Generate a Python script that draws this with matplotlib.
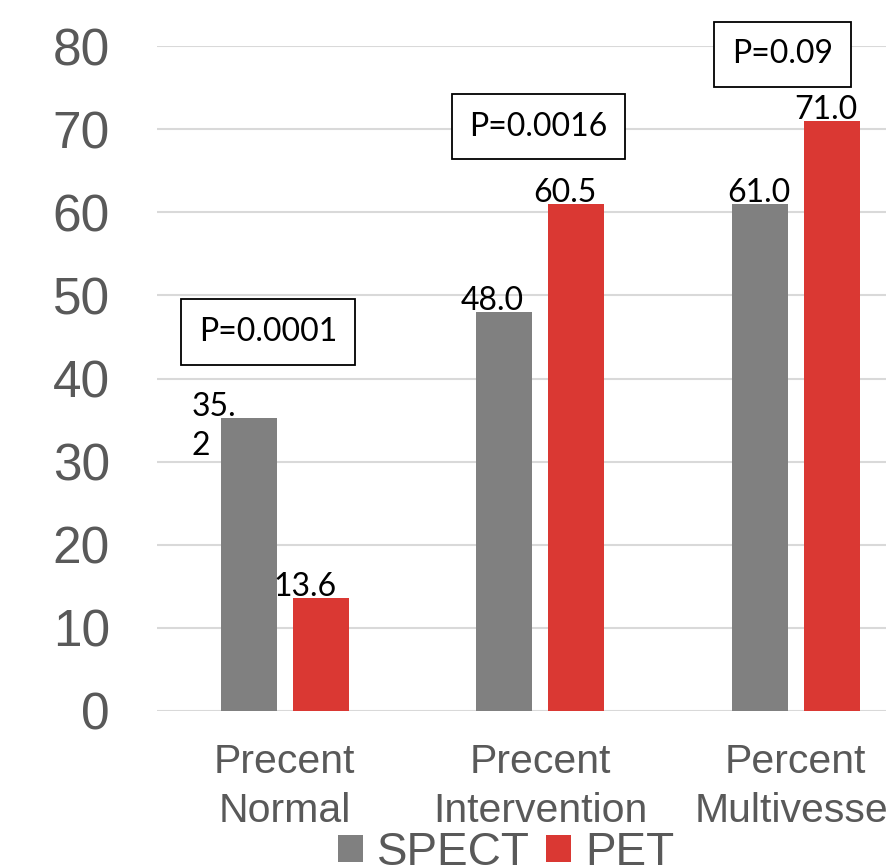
import matplotlib
matplotlib.use("Agg")
import matplotlib.pyplot as plt
from matplotlib.patches import Patch
import numpy as np

categories = ["Precent\nNormal", "Precent\nIntervention", "Percent\nMultivessel"]
spect = [35.2, 48.0, 61.0]
pet = [13.6, 61.0, 71.0]
spect_labels = ["35.\n2", "48.0", "61.0"]
pet_labels = ["13.6", "60.5", "71.0"]
p_values = ["P=0.0001", "P=0.0016", "P=0.09"]
p_y = [45.6, 70.3, 79.0]
yticks = [0, 10, 20, 30, 40, 50, 60, 70, 80]

GREY = "#808080"
RED = "#DA3833"
TXT = "#595959"

fig = plt.figure(figsize=(8.87, 8.67), dpi=100)
ax = fig.add_axes([157/887, 1-711/867, 766.5/887, (711-46)/867])

x = np.arange(len(categories))
w = 0.22
off = 0.141
b1 = ax.bar(x - off, spect, w, color=GREY, zorder=3)
b2 = ax.bar(x + off, pet, w, color=RED, zorder=3)

ax.set_xlim(-0.5, 2.5)
ax.set_ylim(0, 80)
ax.set_yticks(yticks)
ax.yaxis.grid(True, color="#d9d9d9", linewidth=1.5, zorder=0)
ax.set_axisbelow(True)
for s in ax.spines.values():
    s.set_visible(False)
ax.tick_params(axis="y", length=0, pad=34, labelsize=37, labelcolor=TXT)
ax.tick_params(axis="x", length=0, pad=23, labelsize=29.5, labelcolor=TXT)
ax.set_xticks(x)
ax.set_xticklabels(categories, linespacing=1.38)
for lab in ax.get_yticklabels() + ax.get_xticklabels():
    lab.set_fontfamily("Liberation Sans")

lblfont = dict(family="Lato", fontsize=23, color="black")
spect_dx = [-57, -12, -1]
pet_dx = [-16, -11, -6]
for i in range(len(categories)):
    if "\n" in spect_labels[i]:
        ax.annotate(spect_labels[i], (x[i] - off, spect[i]), xytext=(spect_dx[i], -37),
                    textcoords="offset pixels", ha="left", va="baseline",
                    linespacing=1.4, **lblfont)
    else:
        ax.annotate(spect_labels[i], (x[i] - off, spect[i]), xytext=(spect_dx[i], 2),
                    textcoords="offset pixels", ha="center", va="baseline", **lblfont)
    ax.annotate(pet_labels[i], (x[i] + off, pet[i]), xytext=(pet_dx[i], 2),
                textcoords="offset pixels", ha="center", va="baseline", **lblfont)

p_x = [-0.066, 0.993, 1.948]
for i in range(len(categories)):
    ax.text(p_x[i], p_y[i], p_values[i], ha="center", va="center", zorder=5,
            bbox=dict(boxstyle="square,pad=0.55", facecolor="white",
                      edgecolor="black", linewidth=1.3), **lblfont)

handles = [Patch(facecolor=GREY, label="SPECT"), Patch(facecolor=RED, label="PET")]
fig.legend(handles=handles, loc="center", bbox_to_anchor=(506/887, 1-853/867),
           ncol=2, frameon=False, prop=dict(family="Liberation Sans", size=33),
           labelcolor=TXT, handlelength=0.54, handleheight=0.54,
           handletextpad=0.3, columnspacing=0.37, borderpad=0, borderaxespad=0)

fig.savefig("out.png", dpi=100)
